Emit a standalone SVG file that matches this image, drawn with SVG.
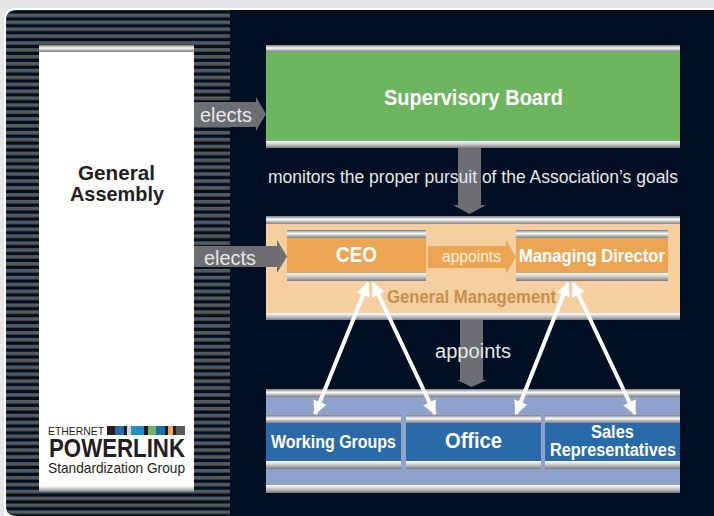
<svg xmlns="http://www.w3.org/2000/svg" width="714" height="516" viewBox="0 0 714 516">
<defs>
<linearGradient id="bar" x1="0" y1="0" x2="0" y2="1"><stop offset="0" stop-color="#77797c"/><stop offset=".25" stop-color="#c9cbcc"/><stop offset=".45" stop-color="#fbfbfb"/><stop offset=".65" stop-color="#c4c6c8"/><stop offset="1" stop-color="#808285"/></linearGradient>
<linearGradient id="barb" x1="0" y1="0" x2="0" y2="1"><stop offset="0" stop-color="#ffffff"/><stop offset=".3" stop-color="#dddee0"/><stop offset=".7" stop-color="#a8aaac"/><stop offset="1" stop-color="#77797c"/></linearGradient>
<pattern id="stripes" patternUnits="userSpaceOnUse" x="0" y="13.6" width="8" height="6.9"><rect width="8" height="3.6" fill="#58595b"/></pattern>
<marker id="wh" markerUnits="userSpaceOnUse" markerWidth="14" markerHeight="14" refX="13" refY="7" orient="auto-start-reverse" viewBox="0 0 14 14"><path d="M0 0L14 7L0 14z" fill="#fff"/></marker>
</defs>
<style>
text{font-family:"Liberation Sans Narrow","Liberation Sans",Arial,sans-serif}
.w{fill:#fff;font-weight:bold}
.l{fill:#e6e7e8}
.g{fill:#6d6e71}
.bt{fill:url(#bar)}
.bb{fill:url(#barb)}
</style>
<rect width="714" height="516" fill="#e6e7e8"/>
<path d="M4 516V20Q4 8 16 8H714V516z" fill="#fff"/>
<path d="M6 516V21Q6 10 17 10H714V516H17Q6 516 6 506z" fill="#000f21"/>
<path d="M6 516V21Q6 10 17 10H230V516H17Q6 516 6 506z" fill="url(#stripes)"/>

<g id="general-assembly">
<rect x="39" y="45" width="155" height="447" fill="#fff"/>
<rect class="bt" x="39" y="45" width="155" height="7"/>
<rect class="bb" x="39" y="486" width="155" height="6"/>
<text x="78" y="180" font-size="21" font-weight="bold" fill="#231f20" textLength="77" lengthAdjust="spacingAndGlyphs">General</text>
<text x="70" y="201" font-size="21" font-weight="bold" fill="#231f20" textLength="94" lengthAdjust="spacingAndGlyphs">Assembly</text>
<g id="logo">
<text x="48" y="434.500" font-size="11" fill="#231f20" textLength="56" lengthAdjust="spacingAndGlyphs">ETHERNET</text>
<rect x="107" y="426" width="8" height="9" fill="#231f20"/><rect x="115" y="426" width="9" height="9" fill="#2a6aa8"/><rect x="124" y="426" width="3" height="9" fill="#231f20"/><rect x="127" y="426" width="4" height="9" fill="#d1d3d4"/><rect x="131" y="426" width="13" height="9" fill="#2091c4"/><rect x="144" y="426" width="4" height="9" fill="#231f20"/><rect x="148" y="426" width="8" height="9" fill="#6db55f"/><rect x="156" y="426" width="9" height="9" fill="#1b74ad"/><rect x="165" y="426" width="3" height="9" fill="#231f20"/><rect x="168" y="426" width="5" height="9" fill="#eca653"/><rect x="173" y="426" width="3" height="9" fill="#231f20"/><rect x="176" y="426" width="9" height="9" fill="#58595b"/>
<text x="49" y="457" font-size="25" font-weight="bold" fill="#231f20" textLength="136" lengthAdjust="spacingAndGlyphs">POWERLINK</text>
<text x="48" y="473" font-size="14.500" fill="#231f20" textLength="137" lengthAdjust="spacingAndGlyphs">Standardization Group</text>
</g>
</g>

<g id="supervisory-board">
<rect x="266" y="45" width="414" height="103" fill="#6db55f"/>
<rect class="bt" x="266" y="45" width="414" height="7"/>
<rect class="bb" x="266" y="141" width="414" height="7"/>
<text class="w" x="384" y="105" font-size="22" textLength="179" lengthAdjust="spacingAndGlyphs">Supervisory Board</text>
</g>

<g id="general-management">
<rect x="266" y="216" width="414" height="104" fill="#f5cfa0"/>
<rect class="bt" x="266" y="216" width="414" height="8"/>
<rect class="bb" x="266" y="313" width="414" height="7"/>
<text x="387" y="303" font-size="18.500" font-weight="bold" fill="#c68f4e" textLength="169" lengthAdjust="spacingAndGlyphs">General Management</text>
</g>

<g id="ceo">
<rect x="287" y="230" width="139" height="51" fill="#eca653"/>
<rect class="bt" x="287" y="230" width="139" height="8"/>
<rect class="bb" x="287" y="273" width="139" height="8"/>
<text class="w" x="336" y="262" font-size="22" textLength="41" lengthAdjust="spacingAndGlyphs">CEO</text>
</g>

<g id="managing-director">
<rect x="516" y="230" width="152" height="51" fill="#eca653"/>
<rect class="bt" x="516" y="230" width="152" height="8"/>
<rect class="bb" x="516" y="273" width="152" height="8"/>
<text class="w" x="519" y="262" font-size="18.500" textLength="146" lengthAdjust="spacingAndGlyphs">Managing Director</text>
</g>

<g id="delegates">
<rect x="266" y="389" width="414" height="104" fill="#8fa2cc"/>
<rect class="bt" x="266" y="389" width="414" height="8"/>
<rect class="bb" x="266" y="485" width="414" height="8"/>
</g>

<g id="working-groups">
<rect x="266" y="415" width="135" height="54" fill="#2a6aa8"/>
<rect class="bt" x="266" y="415" width="135" height="8"/>
<rect class="bb" x="266" y="461" width="135" height="8"/>
<text class="w" x="271" y="448" font-size="18.500" textLength="125" lengthAdjust="spacingAndGlyphs">Working Groups</text>
</g>
<g id="office">
<rect x="406" y="415" width="135" height="54" fill="#2a6aa8"/>
<rect class="bt" x="406" y="415" width="135" height="8"/>
<rect class="bb" x="406" y="461" width="135" height="8"/>
<text class="w" x="445" y="448" font-size="22" textLength="57" lengthAdjust="spacingAndGlyphs">Office</text>
</g>
<g id="sales-representatives">
<rect x="545" y="415" width="135" height="54" fill="#2a6aa8"/>
<rect class="bt" x="545" y="415" width="135" height="8"/>
<rect class="bb" x="545" y="461" width="135" height="8"/>
<text class="w" x="591" y="438" font-size="18" textLength="43" lengthAdjust="spacingAndGlyphs">Sales</text>
<text class="w" x="550" y="456" font-size="18" textLength="126" lengthAdjust="spacingAndGlyphs">Representatives</text>
</g>

<g id="connectors">
<path class="g" d="M194 102H256V97L266 114L256 131V127H194z"/>
<path class="g" d="M194 246H277V240L287 256.500L277 273V267H194z"/>
<path class="g" d="M458 148H481V205H486L469.500 214L453 205H458z"/>
<path class="g" d="M460 320H483V380H487L471.500 387L457 380H460z"/>
<path d="M428 246H506V240L516 257L506 274V268H428z" fill="#eca653"/>
<g stroke="#fff" stroke-width="4" fill="none" marker-start="url(#wh)" marker-end="url(#wh)">
<path d="M368 283L315 414"/>
<path d="M373 283L435 414"/>
<path d="M568 283L516 414"/>
<path d="M573 283L635 414"/>
</g>
</g>

<g id="labels">
<text class="l" x="200" y="122" font-size="20" textLength="52" lengthAdjust="spacingAndGlyphs">elects</text>
<text class="l" x="204" y="265" font-size="20" textLength="52" lengthAdjust="spacingAndGlyphs">elects</text>
<text class="l" x="268" y="183" font-size="18.500" textLength="410" lengthAdjust="spacingAndGlyphs">monitors the proper pursuit of the Association’s goals</text>
<text x="442" y="262" font-size="16" fill="#fdf0de" textLength="59" lengthAdjust="spacingAndGlyphs">appoints</text>
<text class="l" x="435" y="358" font-size="20" textLength="76" lengthAdjust="spacingAndGlyphs">appoints</text>
</g>
</svg>
